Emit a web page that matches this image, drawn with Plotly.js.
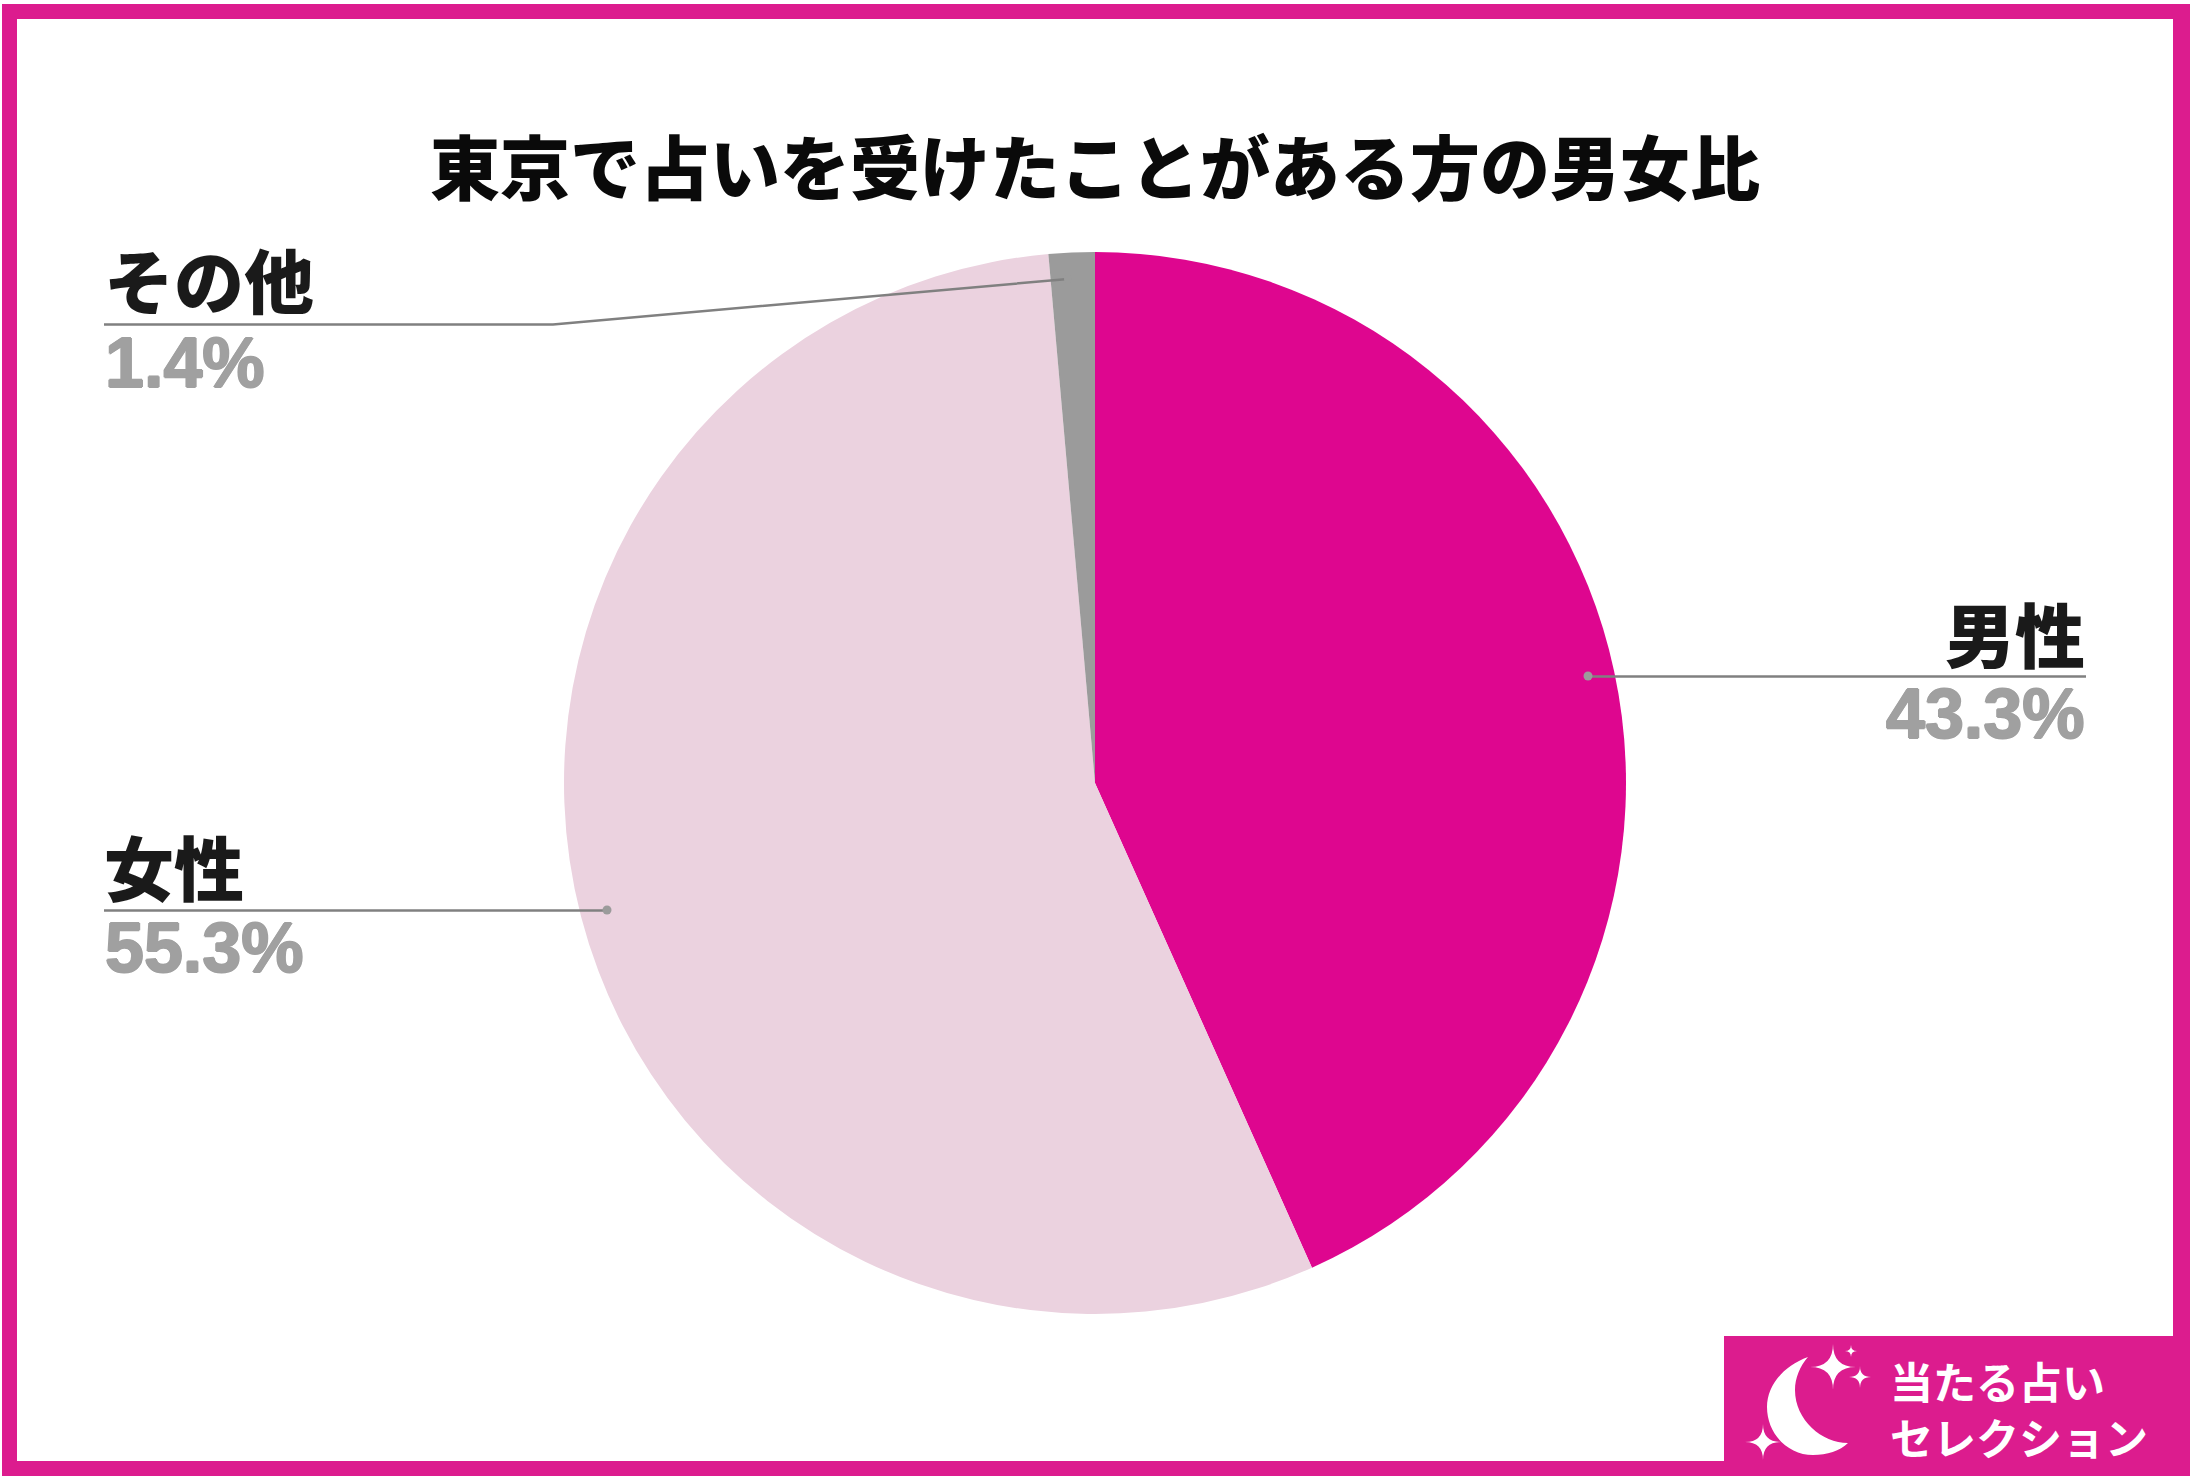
<!DOCTYPE html>
<html><head><meta charset="utf-8">
<script src="https://cdn.plot.ly/plotly-3.0.1.min.js"></script>
<style>html,body{margin:0;padding:0;background:#fff}#c{width:2190px;height:1476px}</style>
</head><body><div id="c"></div>
<script>
const categories = ['男性', '女性', 'その他'];
const values = [43.3, 55.3, 1.4];
const sliceColors = ['#DE068F', '#EBD2DF', '#9B9B9B'];
const chartTitle = '東京で占いを受けたことがある方の男女比';
const brandLines = ['当たる占い', 'セレクション'];

const W = 2190, H = 1476;
const px = x => x / W, py = y => 1 - y / H;
const JP = '"Noto Sans CJK JP", "Noto Sans", sans-serif';
const LAT = '"Liberation Sans", Arial, sans-serif';
const PINK = '#DC1C8E', LINE = '#808080', DOT = '#9B9B9B';

const cx = 1095, cy = 783, r = 531;

function rect(x0, y0, x1, y1, c) {
  return {type:'rect', xref:'paper', yref:'paper', x0:px(x0), x1:px(x1), y0:py(y0), y1:py(y1),
          fillcolor:c, line:{width:0}, layer:'above'};
}
function polyline(pts) {
  return {type:'path', xref:'paper', yref:'paper', layer:'above', line:{color:LINE, width:2.5},
          path:'M' + pts.map(p => px(p[0]) + ',' + py(p[1])).join(' L')};
}
function dot(x, y, d, c) {
  return {type:'circle', xref:'paper', yref:'paper', layer:'above', fillcolor:c, line:{width:0},
          x0:px(x-d), x1:px(x+d), y0:py(y+d), y1:py(y-d)};
}
const P = (x, y) => px(x) + ',' + py(y);
function star(x, y, a) {
  return {type:'path', xref:'paper', yref:'paper', layer:'above', fillcolor:'#fff', line:{width:0},
    path:'M'+P(x,y-a)+' Q'+P(x,y)+' '+P(x+a,y)+' Q'+P(x,y)+' '+P(x,y+a)+' Q'+P(x,y)+' '+P(x-a,y)+' Q'+P(x,y)+' '+P(x,y-a)+' Z'};
}
const moon = {type:'path', xref:'paper', yref:'paper', layer:'above', fillcolor:'#fff', line:{width:0},
  path:'M'+P(1808,1357)+
       ' C'+P(1783,1366)+' '+P(1767,1386)+' '+P(1767,1407)+
       ' C'+P(1767,1434)+' '+P(1788,1455)+' '+P(1813,1455)+
       ' C'+P(1827,1455)+' '+P(1840,1451)+' '+P(1848,1443)+
       ' C'+P(1822,1443)+' '+P(1795,1420)+' '+P(1795,1390)+
       ' C'+P(1795,1378)+' '+P(1800,1366)+' '+P(1808,1357)+' Z'};

const shapes = [
  rect(2, 4, 17, 1476, PINK), rect(2, 4, 2190, 19, PINK),
  rect(2173, 4, 2190, 1476, PINK), rect(2, 1461, 2190, 1476, PINK),
  rect(1724, 1336, 2190, 1476, PINK),
  polyline([[1588,676.5],[2086,676.5]]),
  polyline([[104,910.5],[607,910.5]]),
  polyline([[104,324.5],[553,324.5],[1068,279]]),
  dot(1588,676,4.5,DOT), dot(607,910,4.5,DOT), dot(1068,279,4,DOT),
  moon, star(1833,1367,23), star(1851,1351,6), star(1860,1377,11), star(1763,1442,18)
];

function note(text, x, y, anchor, size, color, family, weight, shadow) {
  const font = {size:size, color:color, family:family, weight:weight};
  if (shadow) font.shadow = shadow;
  return {text:text, xref:'paper', yref:'paper', x:px(x), y:py(y), xanchor:anchor, yanchor:'middle',
          showarrow:false, borderpad:0, font:font};
}
const pct = v => v.toFixed(1) + '%';
const GREY = '#A0A0A0';
const THICK = '1px 0 0 ' + GREY + ', -1px 0 0 ' + GREY + ', 0 1px 0 ' + GREY + ', 0 -1px 0 ' + GREY;
const annotations = [
  note(categories[0], 2086, 632, 'right', 70, '#1A1A1A', JP, 900),
  note(pct(values[0]), 2085, 714, 'right', 70, GREY, LAT, 700, THICK),
  note(categories[1], 103, 865, 'left', 70, '#1A1A1A', JP, 900),
  note(pct(values[1]), 104, 948, 'left', 70, GREY, LAT, 700, THICK),
  note(categories[2], 103, 279, 'left', 70, '#1A1A1A', JP, 900),
  note(pct(values[2]), 104, 363, 'left', 70, GREY, LAT, 700, THICK),
  note(brandLines[0], 1889, 1380, 'left', 43, '#FFFFFF', JP, 700),
  note(brandLines[1], 1889, 1436, 'left', 43, '#FFFFFF', JP, 700)
];

Plotly.newPlot('c', [{
  type:'pie', labels:categories, values:values, sort:false, direction:'clockwise', rotation:0,
  marker:{colors:sliceColors, line:{width:0}}, textinfo:'none', hoverinfo:'label+percent',
  automargin:false,
  domain:{x:[px(cx-r), px(cx+r)], y:[py(cy+r), py(cy-r)]}
}], {
  width:W, height:H, margin:{l:0,r:0,t:0,b:0}, paper_bgcolor:'#fff', showlegend:false,
  title:{text:chartTitle, x:0.5, xanchor:'center', y:py(170), yanchor:'middle',
         font:{size:70, color:'#0A0A0A', family:JP, weight:900}},
  shapes:shapes, annotations:annotations
}, {displayModeBar:false, staticPlot:true});
</script></body></html>
